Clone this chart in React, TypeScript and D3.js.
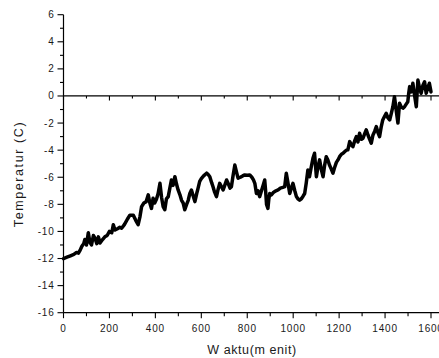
import React from "react";
import * as d3 from "d3";

const minutes = [0,15,30,45,57,65,72,80,88,93,100,108,115,122,130,137,145,152,159,170,180,190,200,210,217,224,235,245,253,265,278,289,304,315,325,333,340,350,360,369,376,383,390,397,405,412,420,427,434,441,448,456,463,470,477,485,492,499,507,514,521,528,536,543,550,557,565,572,580,586,593,600,610,623,630,637,645,651,658,666,673,680,688,695,702,710,718,725,731,738,746,753,760,770,780,789,800,811,820,827,833,840,847,854,862,869,876,880,884,890,894,898,905,915,925,934,944,955,963,970,977,985,992,999,1007,1014,1021,1028,1035,1043,1050,1057,1064,1071,1078,1086,1093,1101,1108,1115,1122,1130,1137,1144,1151,1158,1166,1173,1180,1188,1195,1202,1210,1217,1225,1232,1238,1246,1253,1260,1268,1275,1282,1289,1297,1304,1311,1318,1326,1333,1340,1347,1355,1362,1369,1376,1383,1390,1398,1405,1412,1420,1427,1434,1441,1448,1456,1463,1470,1478,1485,1492,1499,1503,1507,1514,1521,1528,1536,1543,1550,1557,1565,1572,1579,1586,1593,1600];
const temps = [-12.0,-11.9,-11.8,-11.7,-11.55,-11.6,-11.4,-11.1,-10.9,-10.6,-11.0,-10.1,-10.8,-11.0,-10.3,-10.5,-10.9,-10.4,-10.85,-10.6,-10.4,-10.3,-10.0,-10.1,-9.5,-9.9,-9.8,-9.7,-9.77,-9.5,-9.1,-8.8,-8.8,-9.2,-9.5,-8.9,-8.17,-7.9,-7.8,-7.3,-7.9,-8.3,-7.55,-7.9,-7.6,-7.2,-6.45,-7.5,-8.17,-8.4,-7.6,-7.43,-6.8,-6.2,-6.6,-5.96,-6.5,-6.94,-7.3,-7.7,-7.9,-8.4,-8.0,-7.7,-7.2,-6.94,-7.4,-7.8,-7.2,-6.8,-6.3,-6.1,-5.9,-5.7,-5.8,-5.96,-6.4,-6.7,-7.1,-7.43,-6.9,-6.45,-6.7,-6.94,-6.6,-6.2,-6.5,-6.8,-6.7,-5.9,-5.1,-5.6,-6.07,-6.0,-5.9,-5.83,-5.85,-5.83,-6.0,-6.2,-6.45,-7.2,-7.0,-7.43,-7.0,-6.6,-6.2,-7.0,-8.0,-8.3,-7.6,-7.2,-7.3,-7.1,-7.0,-6.94,-6.8,-6.75,-6.7,-5.7,-6.4,-7.2,-6.8,-6.45,-7.0,-7.43,-7.6,-7.7,-7.6,-7.4,-7.2,-6.4,-5.46,-5.96,-5.3,-4.6,-4.23,-5.96,-5.2,-4.72,-5.4,-5.96,-5.1,-4.48,-4.72,-5.1,-5.4,-5.7,-5.3,-4.9,-4.72,-4.48,-4.3,-4.23,-4.1,-4.0,-3.98,-3.37,-3.6,-3.74,-3.3,-3.0,-3.4,-2.75,-3.2,-3.12,-2.8,-2.5,-2.9,-3.2,-3.49,-2.9,-2.6,-2.26,-2.7,-3.0,-2.3,-1.77,-1.5,-1.28,-1.6,-1.77,-1.3,-0.79,-0.05,-1.0,-2.0,-0.54,-0.8,-0.9,-0.79,-0.6,-0.42,0.2,0.69,0.3,0.94,0.1,-0.79,1.18,0.6,0.2,0.8,1.05,0.2,0.6,0.94,0.3];

const xTicks = [0,200,400,600,800,1000,1200,1400,1600];
const xMinor = [100,300,500,700,900,1100,1300,1500];
const yTicks = [-16,-14,-12,-10,-8,-6,-4,-2,0,2,4,6];
const yMinor = [-15,-13,-11,-9,-7,-5,-3,-1,1,3,5];

const W = 439, H = 358;
const x = d3.scaleLinear().domain([0, 1600]).range([63.5, 431]);
const y = d3.scaleLinear().domain([-16, 6]).range([312.7, 14.7]);
const axisRight = 439;

export default function App() {
  const pts = minutes.map((m, i) => [m, temps[i]] as [number, number]);
  const line = d3.line<[number, number]>().x(d => x(d[0])).y(d => y(d[1]));
  const x0 = x(0);
  const yb = y(-16);
  const yz = y(0);
  const tickFont = { fontFamily: "Arial, 'Liberation Sans', sans-serif", fontSize: 10, letterSpacing: 0.8, fill: "#1a1a1a" };
  return (
    <div style={{ position: "absolute", left: 0, top: 0 }}>
      <svg width={W} height={H} style={{ display: "block", background: "#fff" }}>
        <line x1={x0} x2={x0} y1={y(6)} y2={yb} stroke="#000" strokeWidth={1.2} />
        {yTicks.map(t => (
          <g key={"y" + t}>
            <line x1={x0 - 6} x2={x0} y1={y(t)} y2={y(t)} stroke="#000" strokeWidth={1.1} />
            <text x={x0 - 9} y={y(t)} dy="0.35em" textAnchor="end" {...tickFont}>{t}</text>
          </g>
        ))}
        {yMinor.map(t => (
          <line key={"ym" + t} x1={x0 - 3.5} x2={x0} y1={y(t)} y2={y(t)} stroke="#000" strokeWidth={1.1} />
        ))}
        <line x1={x0} x2={axisRight} y1={yb} y2={yb} stroke="#000" strokeWidth={1.2} />
        <line x1={x0} x2={axisRight} y1={yz} y2={yz} stroke="#000" strokeWidth={1.2} />
        {xTicks.map(t => (
          <g key={"x" + t}>
            <line x1={x(t)} x2={x(t)} y1={yb} y2={yb + 5.5} stroke="#000" strokeWidth={1.1} />
            <line x1={x(t)} x2={x(t)} y1={yz} y2={yz + 4.5} stroke="#000" strokeWidth={1.1} />
            <text x={x(t)} y={yb + 19} textAnchor="middle" {...tickFont}>{t}</text>
          </g>
        ))}
        {xMinor.map(t => (
          <g key={"xm" + t}>
            <line x1={x(t)} x2={x(t)} y1={yb} y2={yb + 3.5} stroke="#000" strokeWidth={1.1} />
            <line x1={x(t)} x2={x(t)} y1={yz} y2={yz + 2.5} stroke="#000" strokeWidth={1.1} />
          </g>
        ))}
        <path d={line(pts) || ""} fill="none" stroke="#000" strokeWidth={3.5} strokeLinejoin="round" strokeLinecap="round" />
        <text x={252} y={354} textAnchor="middle" fontFamily="Arial, 'Liberation Sans', sans-serif" fontSize={12.5} letterSpacing={0.6} fill="#1a1a1a">W aktu(m enit)</text>
        <text transform={`translate(23,174) rotate(-90)`} textAnchor="middle" fontFamily="Arial, 'Liberation Sans', sans-serif" fontSize={12.5} letterSpacing={1.6} fill="#1a1a1a">Temperatur (C)</text>
      </svg>
    </div>
  );
}
